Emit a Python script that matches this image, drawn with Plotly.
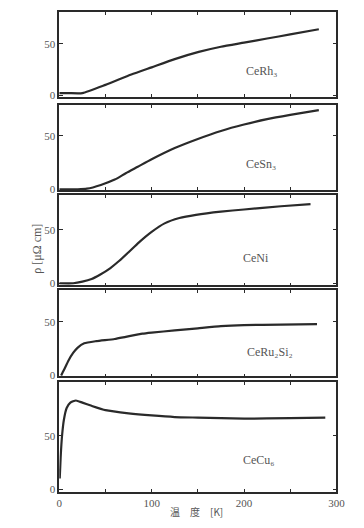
import plotly.graph_objects as go

# ---- data ----
names = ["CeRh₃", "CeSn₃", "CeNi", "CeRu₂Si₂", "CeCu₆"]

rh3_T = [0, 10, 25, 50, 78, 100, 125, 151, 175, 200, 225, 250, 281]
rh3_r = [2, 2, 2, 10, 20, 27, 35, 42, 47, 51, 55, 59, 64]

sn3_T = [0, 20, 30, 45, 60, 72, 85, 100, 125, 150, 175, 200, 225, 250, 281]
sn3_r = [0, 0, 0.5, 4, 9, 15, 21, 28, 38.5, 47, 54.5, 60.5, 65.5, 69.5, 74]

ni_T = [0, 15, 25, 35, 44, 55, 65, 75, 86, 100, 114, 130, 148, 175, 200, 240, 272]
ni_r = [0, 0, 1.5, 4, 8, 14, 21, 29, 38, 48, 56, 61, 64, 67, 69, 72, 74]

ru_T = [2, 5, 10, 15, 20, 27, 40, 60, 72, 90, 100, 125, 150, 175, 200, 240, 279]
ru_r = [0, 5, 14, 21, 26, 30, 32, 34, 36, 39, 40, 42, 44, 46, 47, 47.5, 48]

cu_T = [0.5, 1.5, 3, 5, 8, 12, 18, 25, 35, 50, 75, 100, 125, 150, 200, 250, 288]
cu_r = [10, 30, 50, 65, 76, 81, 83, 81, 78, 74, 71, 69, 67.5, 67, 66, 66.5, 67]

series_T = [rh3_T, sn3_T, ni_T, ru_T, cu_T]
series_r = [rh3_r, sn3_r, ni_r, ru_r, cu_r]
label_pos = [(220, 23), (218, 24), (213, 24), (228, 22), (216, 27)]

x_ticks = [0, 50, 100, 150, 200, 250, 300]
x_ticktext = ["0", "", "100", "", "200", "", "300"]
y_ticks = [0, 50]

# ---- layout geometry (screen pixels; page body has an 8px margin) ----
OFF = 8
W, H = 364 - 2 * OFF, 528 - 2 * OFF
panels_px = [(12, 98), (106, 192), (197, 288), (293, 380), (386, 497)]
y_ranges = [[-1.9, 80.8], [-0.9, 78.7], [-1.9, 82.4], [-0.9, 79.6], [-2.8, 100]]
x_dom = [(58 - OFF) / W, (345 - OFF) / W]

FONT = "Liberation Serif, Times New Roman, serif"
INK = "#2a2a2a"
TXT = "#555555"

fig = go.Figure()
layout = dict(
    width=W, height=H, margin=dict(l=0, r=0, t=0, b=0),
    paper_bgcolor="white", plot_bgcolor="white", showlegend=False,
    font=dict(family=FONT, color=TXT, size=11),
)
annotations = []
for i in range(5):
    n = i + 1
    xa = "x" if n == 1 else f"x{n}"
    ya = "y" if n == 1 else f"y{n}"
    fig.add_trace(go.Scatter(
        x=series_T[i], y=series_r[i], mode="lines",
        line=dict(color=INK, width=2.2, shape="spline", smoothing=0.5),
        xaxis=xa, yaxis=ya, hoverinfo="skip"))
    top, bot = panels_px[i]
    top -= OFF
    bot -= OFF
    layout["xaxis" if n == 1 else f"xaxis{n}"] = dict(
        domain=x_dom, anchor=ya, range=[0, 300],
        tickvals=x_ticks, ticktext=x_ticktext if n == 5 else [""] * 7,
        ticks="inside", ticklen=3, tickcolor=INK, mirror="ticks",
        showline=True, linecolor=INK, linewidth=1.5, showgrid=False,
        zeroline=False, tickfont=dict(size=11, family=FONT, color=TXT),
    )
    layout["yaxis" if n == 1 else f"yaxis{n}"] = dict(
        domain=[1 - bot / H, 1 - top / H], anchor=xa, range=y_ranges[i],
        tickvals=y_ticks, ticks="inside", ticklen=4, tickcolor=INK,
        mirror="ticks", showline=True, linecolor=INK, linewidth=1.5,
        showgrid=False, zeroline=False,
        tickfont=dict(size=11, family=FONT, color=TXT),
    )
    lx, ly = label_pos[i]
    annotations.append(dict(
        x=lx, y=ly, xref=xa, yref=ya, text=names[i], showarrow=False,
        xanchor="center", yanchor="middle",
        font=dict(size=12, family=FONT, color=TXT)))

annotations.append(dict(
    x=(200 - OFF) / W, y=1 - (516 - OFF) / H, xref="paper", yref="paper",
    xanchor="center", yanchor="middle", borderpad=0,
    text="温　度　[K]", showarrow=False,
    font=dict(size=10, family="Noto Sans CJK JP, " + FONT, color=TXT)))
annotations.append(dict(
    x=(35 - OFF) / W, y=1 - (251 - OFF) / H, xref="paper", yref="paper",
    xanchor="center", yanchor="middle",
    text="ρ [μΩ cm]", showarrow=False, textangle=-90,
    font=dict(size=12, family=FONT, color=TXT)))
layout["annotations"] = annotations
fig.update_layout(**layout)
fig.write_html("out.html")
